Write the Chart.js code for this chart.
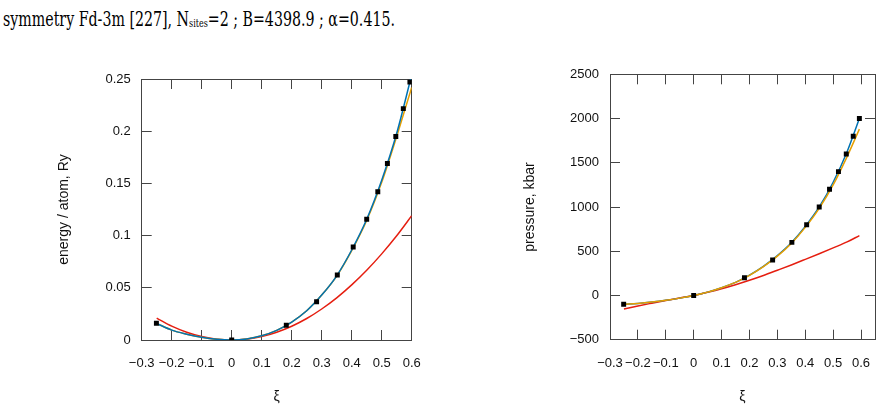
<!DOCTYPE html>
<html>
<head>
<meta charset="utf-8">
<script src="https://cdn.jsdelivr.net/npm/chart.js@4/dist/chart.umd.min.js"></script>
<style>
  html, body { margin: 0; padding: 0; background: #fff; }
  body { width: 882px; height: 412px; position: relative; overflow: hidden; }
  #caption {
    position: absolute; left: 3px; top: 10px; white-space: nowrap;
    font-family: "DejaVu Serif", serif; font-size: 19.5px;
    line-height: 20px; color: #000; transform-origin: 0 0;
  }
  #caption sub { font-size: 11px; vertical-align: -1px; }
  canvas { position: absolute; }
</style>
</head>
<body>
<div id="caption">symmetry Fd-3m [227], N<sub>sites</sub>=2 ; B=4398.9 ; α=0.415.</div>
<canvas id="energy" width="430" height="352" style="left:0;top:60px"></canvas>
<canvas id="pressure" width="442" height="352" style="left:440px;top:60px"></canvas>
<script>
// measured points
const xiPts = [-0.251, 0, 0.182, 0.283, 0.352, 0.405, 0.45, 0.487, 0.519, 0.547, 0.572, 0.594];
const energyPts = [0.016, 0, 0.0141, 0.0367, 0.0623, 0.089, 0.1156, 0.142, 0.169, 0.195, 0.2216, 0.247];
const pressurePts = [-100, 0, 200, 400, 600, 800, 1000, 1200, 1400, 1600, 1800, 2000];

// fitted curves
const xiFitE = [-0.25, -0.2, -0.15, -0.1, -0.05, 0, 0.05, 0.1, 0.15, 0.2, 0.25, 0.3, 0.35, 0.4, 0.45, 0.5, 0.55, 0.6];
const energyBlue = [0.0158, 0.0095, 0.0056, 0.0026, 0.0007, 0, 0.001, 0.004, 0.0092, 0.0172, 0.028, 0.043, 0.0615, 0.0862, 0.1156, 0.153, 0.198, 0.254];
const energyOrange = [0.0158, 0.0095, 0.0056, 0.0026, 0.0007, 0, 0.001, 0.004, 0.0092, 0.0172, 0.028, 0.043, 0.0612, 0.0856, 0.1145, 0.151, 0.195, 0.242];
const energyRed = [0.021, 0.0133, 0.0075, 0.0033, 0.0008, 0, 0.0008, 0.0033, 0.0075, 0.0132, 0.0206, 0.0297, 0.0404, 0.0528, 0.0668, 0.0825, 0.0998, 0.119];

const xiFitP = [-0.25, -0.2, -0.15, -0.1, -0.05, 0, 0.05, 0.1, 0.15, 0.2, 0.25, 0.3, 0.35, 0.4, 0.45, 0.5, 0.55, 0.594];
const pressureBlue = [-100, -90, -75, -55, -30, 0, 38, 88, 148, 230, 330, 450, 595, 780, 1000, 1280, 1625, 2000];
const pressureOrange = [-100, -90, -75, -55, -30, 0, 38, 88, 148, 228, 326, 444, 588, 770, 985, 1250, 1570, 1880];
const pressureRed = [-152, -118, -87, -57, -28, 0, 36, 76, 122, 172, 226, 285, 345, 408, 472, 538, 605, 677];

// tick labels
const xiTicks = [-0.3, -0.2, -0.1, 0, 0.1, 0.2, 0.3, 0.4, 0.5, 0.6];
const energyTicks = [0, 0.05, 0.1, 0.15, 0.2, 0.25];
const pressureTicks = [-500, 0, 500, 1000, 1500, 2000, 2500];

const BLUE = '#0072b2', ORANGE = '#e69f00', RED = '#e51e10';
const FRAME = '#444';
const SANS = 'Liberation Sans, Arial, sans-serif';

function pairs(xs, ys) {
  return xs.map((x, i) => ({ x: x, y: ys[i] }));
}

function curve(xs, ys, color) {
  return {
    data: pairs(xs, ys), borderColor: color, borderWidth: 1.5,
    pointRadius: 0, cubicInterpolationMode: 'monotone', fill: false
  };
}

function points(xs, ys) {
  return {
    data: pairs(xs, ys), showLine: false, pointStyle: 'rect', pointRadius: 3.5,
    pointBackgroundColor: '#000', pointBorderWidth: 0, borderColor: '#000'
  };
}

// gnuplot style numbers: no trailing zeros, real minus sign
function fmt(v) {
  return String(Math.round(v * 1000) / 1000).replace('-', '\u2212');
}

function axis(pos, min, max, tickVals, size, showLabels, title) {
  const horiz = pos === 'bottom' || pos === 'top';
  return {
    type: 'linear', position: pos, min: min, max: max,
    afterBuildTicks: s => { s.ticks = tickVals.map(v => ({ value: v })); },
    afterFit: s => {
      if (horiz) s.height = size; else s.width = size;
      // keep the plot box where the layout padding puts it
      s.paddingLeft = s.paddingRight = s.paddingTop = s.paddingBottom = 0;
    },
    border: { display: true, color: FRAME, width: 1 },
    grid: { color: 'transparent', drawTicks: true, tickLength: -10, tickColor: FRAME, tickWidth: 1 },
    ticks: {
      display: showLabels, padding: horiz ? 26 : 21, color: '#111',
      autoSkip: false, maxRotation: 0, minRotation: 0,
      font: { family: SANS, size: 13 },
      callback: v => fmt(v)
    },
    title: {
      display: !!title, text: title || '', color: '#111',
      font: { family: SANS, size: 14 },
      padding: { top: 4, bottom: 6 }
    }
  };
}

function makeChart(id, datasets, xMax, yMin, yMax, yTicks, yTitle, pad, yWidth, xHeight) {
  new Chart(document.getElementById(id), {
    type: 'line',
    data: { datasets: datasets },
    options: {
      responsive: false, animation: false, devicePixelRatio: 1,
      layout: { padding: pad },
      plugins: { legend: { display: false }, tooltip: { enabled: false } },
      scales: {
        x: axis('bottom', -0.3, xMax, xiTicks, xHeight, true, 'ξ'),
        x2: axis('top', -0.3, xMax, xiTicks, 0, false, null),
        y: axis('left', yMin, yMax, yTicks, yWidth, true, yTitle),
        y2: axis('right', yMin, yMax, yTicks, 0, false, null)
      }
    }
  });
}

makeChart('energy', [
  points(xiPts, energyPts),
  curve(xiFitE, energyBlue, BLUE),
  curve(xiFitE, energyOrange, ORANGE),
  curve(xiFitE, energyRed, RED)
], 0.6, 0, 0.25, energyTicks, 'energy / atom, Ry',
  { left: 51.5, top: 19, right: 18.3, bottom: 0 }, 90.2, 72);

makeChart('pressure', [
  points(xiPts, pressurePts),
  curve(xiFitP, pressureOrange, ORANGE),
  curve(xiFitP, pressureBlue, BLUE),
  curve(xiFitP, pressureRed, RED)
], 0.65, -500, 2500, pressureTicks, 'pressure, kbar',
  { left: 77.5, top: 14.3, right: 7, bottom: 0 }, 92.5, 72.3);

// squeeze caption to the reference width
const cap = document.getElementById('caption');
const w = cap.getBoundingClientRect().width;
cap.style.transform = 'scaleX(' + (392 / w) + ')';
</script>
</body>
</html>
